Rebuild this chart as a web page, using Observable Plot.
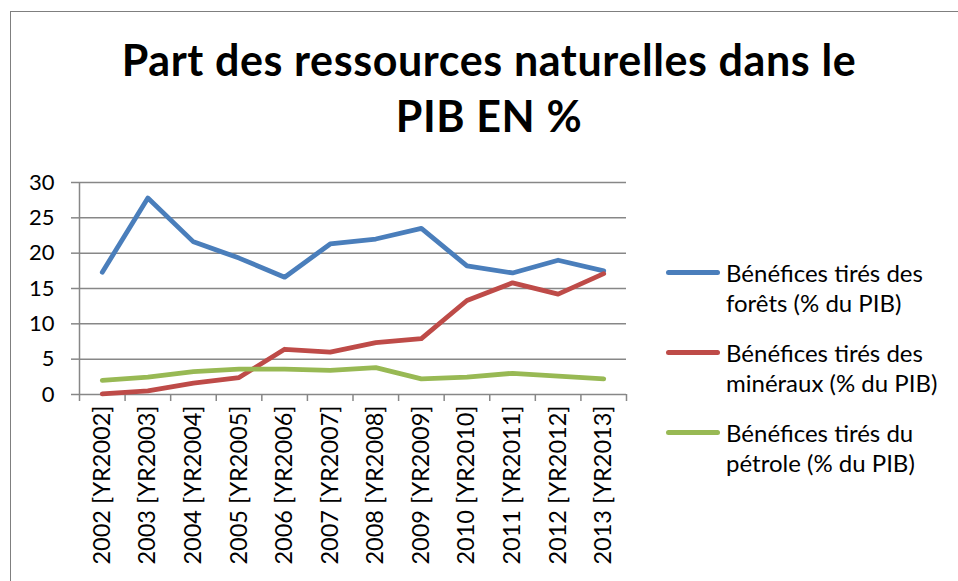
<!DOCTYPE html>
<html>
<head>
<meta charset="utf-8">
<script src="https://cdn.jsdelivr.net/npm/d3@7"></script>
<script src="https://cdn.jsdelivr.net/npm/@observablehq/plot@0.6"></script>
<style>
  html, body { margin: 0; padding: 0; background: #fff; }
  #root { position: relative; width: 958px; height: 581px; overflow: hidden; font-family: Lato, "Open Sans", sans-serif; color: #000; }
  #frame { position: absolute; left: 10px; top: 11px; width: 1000px; height: 1000px; border-left: 1px solid #7f7f7f; border-top: 1px solid #7f7f7f; }
  #title { position: absolute; left: 0; width: 978px; top: 32px; text-align: center; font-weight: 700; font-size: 43px; letter-spacing: 0.6px; line-height: 56px; }
  #chart { position: absolute; left: 0; top: 160px; }
  .leg { position: absolute; left: 666px; display: flex; align-items: flex-start; }
  .leg .sw { width: 54px; height: 5px; border-radius: 3px; margin-top: 12px; }
  .leg .tx { margin-left: 6px; width: 240px; font-size: 24px; line-height: 30px; }
</style>
</head>
<body>
<div id="root">
  <div id="frame"></div>
  <div id="title">Part des ressources naturelles dans le<br>PIB EN %</div>
  <div id="chart"></div>
  <div id="legend"></div>
</div>
<script>
const categories = ["2002 [YR2002]","2003 [YR2003]","2004 [YR2004]","2005 [YR2005]","2006 [YR2006]","2007 [YR2007]","2008 [YR2008]","2009 [YR2009]","2010 [YR2010]","2011 [YR2011]","2012 [YR2012]","2013 [YR2013]"];
const seriesNames = ["Bénéfices tirés des forêts (% du PIB)","Bénéfices tirés des minéraux (% du PIB)","Bénéfices tirés du pétrole (% du PIB)"];
const forets   = [17.3, 27.8, 21.6, 19.3, 16.6, 21.3, 22.0, 23.5, 18.2, 17.2, 19.0, 17.5];
const mineraux = [0.1, 0.5, 1.6, 2.4, 6.4, 6.0, 7.35, 7.9, 13.3, 15.8, 14.2, 17.1];
const petrole  = [2.0, 2.45, 3.25, 3.6, 3.6, 3.4, 3.8, 2.2, 2.45, 3.0, 2.6, 2.2];
const yTicks = [0, 5, 10, 15, 20, 25, 30];
const colors = ["#4A7EBB", "#BE4B48", "#98B954"];

const seriesValues = [forets, mineraux, petrole];
const data = [];
seriesValues.forEach((vals, s) => vals.forEach((v, i) => data.push({i, series: seriesNames[s], value: v})));
const idx = categories.map((_, i) => i);
const edges = d3.range(categories.length + 1).map(i => i - 0.5);
const grid = "#878787";

const plot = Plot.plot({
  width: 640,
  height: 421,
  marginLeft: 79,
  marginRight: 14,
  marginTop: 22,
  marginBottom: 187,
  style: {fontFamily: "Lato, 'Open Sans', sans-serif", color: "#000", background: "transparent", overflow: "visible"},
  x: {type: "linear", domain: [-0.5, categories.length - 0.5]},
  y: {domain: [0, 30]},
  color: {domain: seriesNames, range: colors},
  marks: [
    Plot.ruleY(yTicks, {stroke: grid, strokeWidth: 1.5}),
    Plot.ruleX([-0.5], {stroke: grid, strokeWidth: 1.5}),
    Plot.axisY({ticks: yTicks, tickSize: 8, tickPadding: 17, fontSize: 22, stroke: grid, strokeWidth: 1.5, strokeOpacity: 1, fill: "#000", label: null}),
    Plot.axisX({ticks: edges, tickSize: 7, tickFormat: () => "", stroke: grid, strokeWidth: 1.5, strokeOpacity: 1, label: null}),
    Plot.axisX({ticks: idx, tickSize: 0, tickPadding: 11, tickRotate: -90, tickFormat: i => categories[i], fontSize: 23.5, fill: "#000", label: null}),
    Plot.line(data, {x: "i", y: "value", z: "series", stroke: "series", strokeWidth: 4.8, strokeLinejoin: "round", strokeLinecap: "round"})
  ]
});
document.getElementById("chart").appendChild(plot);

const legend = document.getElementById("legend");
seriesNames.forEach((name, k) => {
  const item = document.createElement("div");
  item.className = "leg";
  item.style.top = (258 + k * 80) + "px";
  const sw = document.createElement("div");
  sw.className = "sw";
  sw.style.background = colors[k];
  const tx = document.createElement("div");
  tx.className = "tx";
  tx.textContent = name;
  item.appendChild(sw);
  item.appendChild(tx);
  legend.appendChild(item);
});
</script>
</body>
</html>
